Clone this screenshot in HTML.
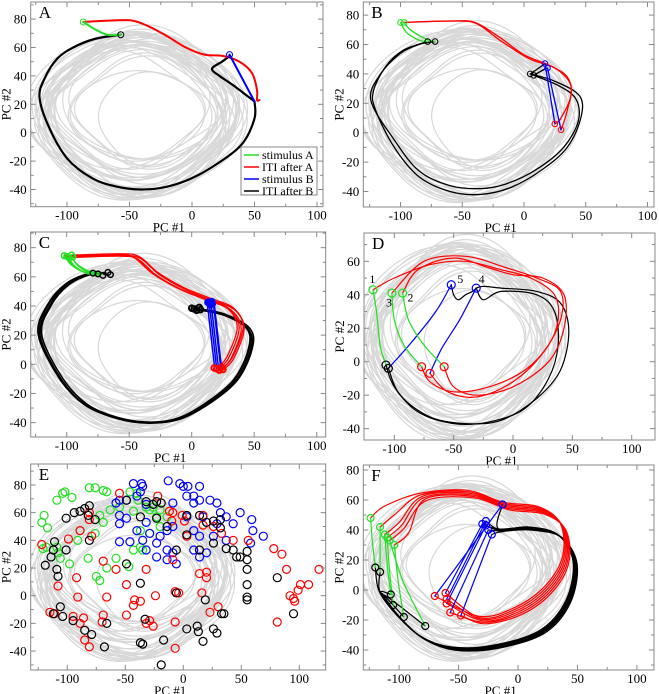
<!DOCTYPE html>
<html><head><meta charset="utf-8">
<style>
html,body{margin:0;padding:0;background:#fff;}
svg{display:block;}
text{font-family:"Liberation Serif",serif;fill:#000;}
</style></head>
<body>
<svg id="fig" width="659" height="694" viewBox="0 0 659 694" xmlns="http://www.w3.org/2000/svg"></svg>
<script>
// ---------- data ----------
const grayCx = [-42,-45,-40,-38,-48,-44,-35,-50,-42,-46,-40,-43,-39,-47,-41,-44,-36,-49,-45,-42,-30,-55,-40,-45,-38,-50,-43,-41,-46,-44,-47,-40,-43,-52];
const grayCy = [15,12,18,14,10,16,20,13,8,17,15,11,19,14,22,9,16,12,18,14,10,15,25,5,12,20,14,17,13,15,11,16,13,9];
const grayRx = [80,75,70,78,72,65,60,82,76,68,55,74,71,79,63,73,58,77,69,50,45,60,66,72,74,62,81,70,67,64,78,76,73,71];
const grayRy = [55,52,50,57,48,45,42,56,53,49,38,54,51,55,40,47,35,52,46,30,32,40,44,50,53,42,56,49,47,44,54,53,51,50];

const xTicks = [-100,-50,0,50,100];
const yTicksA = [-40,-20,0,20,40,60,80];
const yTicksD = [-40,-20,0,20,40,60];

// Panel A
const aGreen = [[-87,78],[-78,73],[-68,69],[-57,69]];
const aRed = [[-87,78],[-65,79],[-48,79],[-35,75],[-20,68],[-5,60],[10,55],[25,54],[38,50],[48,42],[52,30],[52,23],[54,23]];
const aBlue = [[30,55],[50,22]];
const aBlack1 = [[50,22],[50,10],[40,-8],[20,-22],[0,-32],[-20,-38],[-40,-40],[-60,-38],[-80,-32],[-100,-18],[-115,5],[-122,25],[-118,38],[-108,52],[-95,60],[-78,66],[-57,69]];
const aBlack2 = [[30,54],[24,50],[16,45],[22,40],[32,34],[44,26],[50,22]];

// Panel B
const bGreen = [[[-100,75],[-95,68],[-85,63],[-78,62]],[[-97,75],[-92,70],[-80,64],[-72,62]]];
const bRed = [[[-98,75],[-60,76],[-40,75],[-20,65],[0,53],[20,46],[35,38],[38,25],[30,10],[25,6]],
              [[-97,75],[-55,76],[-38,74],[-18,62],[5,50],[25,44],[38,32],[35,15],[30,2]]];
const bBlue = [[[17,47],[25,6]],[[19,44],[30,2]]];
const bBlack = [[[5,40],[25,35],[45,25],[46,10],[35,-10],[15,-25],[-10,-37],[-35,-42],[-60,-40],[-85,-30],[-105,-10],[-120,15],[-122,28],[-112,45],[-98,56],[-78,62]],
                [[8,39],[28,32],[42,23],[44,8],[32,-10],[10,-25],[-15,-35],[-35,-38],[-60,-36],[-85,-26],[-105,-5],[-124,22],[-116,40],[-100,54],[-85,60],[-72,62]]];
const bBlackShort = [[[5,40],[12,44],[17,47]],[[8,39],[14,42],[19,44]]];

// Panel C
const cGreen = [[-100,74],[-95,68],[-85,63],[-75,62]];
const cRed = [[-100,74],[-60,75],[-45,73],[-30,62],[-10,52],[10,45],[30,38],[38,25],[30,5],[22,-3]];
const cBlue = [[14,42],[20,-3]];
const cBlack = [[2,38],[25,34],[45,24],[46,10],[35,-10],[15,-25],[-10,-37],[-35,-40],[-60,-37],[-85,-28],[-105,-10],[-122,20],[-115,40],[-100,55],[-82,62],[-70,62]];
const cDx = [0,2,4,-2,5];
const cDy = [0,-1,1,0.5,-0.5];

// Panel D
const dGreen = [[[-118,43],[-115,30],[-112,10],[-107,-2]],[[-102,41],[-100,25],[-92,10],[-77,-3]],[[-93,41],[-88,25],[-75,10],[-58,-3]]];
const dRed = [[[-77,-3],[-70,-12],[-50,-18],[-20,-15],[10,-5],[30,10],[38,25],[35,40],[15,50],[-10,55],[-40,60],[-70,58],[-100,50],[-118,43]],
              [[-70,-7],[-55,-18],[-30,-21],[0,-12],[25,5],[40,25],[40,42],[20,50],[-5,56],[-40,63],[-75,60],[-102,41]],
              [[-58,-3],[-50,-15],[-30,-20],[0,-15],[30,0],[43,20],[43,40],[25,50],[0,52],[-20,56],[-50,62],[-80,55],[-93,41]]];
const dBlue = [[[-52,46],[-65,30],[-85,12],[-105,-4]],[[-31,44],[-45,25],[-60,8],[-70,-7]]];
const dBlack = [[[-105,-4],[-95,-20],[-70,-33],[-40,-37],[-10,-35],[20,-22],[40,-5],[47,18],[40,35],[20,42],[-10,44],[-25,45],[-31,44]],
                [[-107,-2],[-100,-15],[-80,-30],[-50,-37],[-20,-36],[10,-28],[30,-10],[38,10],[35,30],[20,40],[-10,42],[-25,37],[-31,44]],
                [[-52,46],[-50,40],[-46,37],[-40,40],[-34,42],[-31,44]]];
const dLabels = ['1','3','2','5','4'];
const dLabelX = [-121,-107,-89,-47,-29];
const dLabelY = [47,33,36,47,47];

// Panel E scatter
const eGreenX = [-109,-104,-102,-96,-120,-122,-117,-121,-118,-109,-108,-106,-98,-91,-89,-81,-76,-69,-66,-72,-69,-76,-82,-75,-72,-66,-63,-58,-47,-43,-37,-37,-32,-29,-26,-23,-20,-35,-43,-55,-29,-20,-14,-40,-39,-46];
const eGreenY = [69,74,75,71,58,53,49,34,35,35,31,27,23,40,47,78,78,76,75,58,53,45,27,14,11,20,62,27,21,61,47,35,64,62,64,57,62,33,33,64,45,50,57,74,69,75];
const eBlueX = [-43,-36,-35,-13,-3,0,4,14,-37,-58,-55,-49,-40,-32,-55,-55,-49,-40,-32,-29,-55,-46,-35,-32,-23,-20,-14,-9,-9,3,9,9,14,17,23,29,32,29,26,14,9,14,20,37,43,49,59,60,69,37,-9,-6,-14,-23,3,9,-14,58];
const eBlueY = [81,81,79,83,81,79,79,79,75,67,69,69,72,66,58,52,56,47,53,45,39,39,40,33,38,43,47,50,67,72,72,67,69,57,69,67,60,52,43,43,33,28,31,57,52,60,55,47,43,40,31,23,26,28,57,47,33,38];
const eRedX = [-55,-22,-12,-1,1,-10,3,17,17,26,33,43,56,78,85,89,117,101,99,92,95,96,108,81,14,20,20,16,30,23,-7,-4,-7,-7,-26,-29,-24,-42,-43,-37,-49,-69,-66,-69,-70,-89,-86,-85,-81,-92,-91,-89,-81,-81,-79,-99,-108,-115,-111,-95,-58,-32,-9,-49,-32,-122,-9];
const eRedY = [74,72,61,58,54,54,43,58,51,50,45,40,40,34,30,19,19,8,4,0,-2,-4,8,-19,16,17,13,2,-8,-12,3,2,-19,-38,-22,-18,0,-3,-7,-4,-14,25,-1,-14,-19,-20,-16,-32,-37,13,-1,47,55,60,43,41,7,-12,-13,-15,19,19,26,8,-20,37,60];
const eBlackX = [-101,-94,-89,-85,-82,-76,-81,-111,-112,-114,-119,-108,-109,-106,-112,-104,-95,-85,-79,-68,-66,-33,-37,-35,-17,-19,-6,3,12,13,17,29,26,33,35,-37,-23,-32,-26,-19,-23,-14,-37,-49,-6,3,14,20,26,32,32,37,43,46,49,55,55,55,55,55,55,81,95,19,3,26,14,-81,-49,-101];
const eBlackY = [56,60,61,63,58,55,40,39,33,28,22,14,19,-8,-13,-15,-18,-25,-28,-37,-20,-17,-34,-35,-32,-50,2,-24,-22,-26,-33,-27,-24,-13,-13,9,68,68,66,67,56,50,57,69,33,58,58,53,54,55,49,34,33,28,28,26,32,19,8,-1,-3,13,-13,-3,44,38,33,65,23,33];

// Panel F
const fGStartX = [-124,-116,-112,-110,-104,-108];
const fGStartY = [48,42,37,35,30,33];
const fGEndX = [-120,-116,-107,-105,-96,-78];
const fGEndY = [15,12,-3,-10,-18,-24];
const fRedEndX = [-70,-61,-60,-60,-57,-48];
const fRedEndY = [-4,-2,-6,-9,-15,-17];
const fBlueEndX = [-13,-30,-27,-27,-25,-22];
const fBlueEndY = [57,44,46,43,40,37];
const fRedTop = [[-80,62],[-40,64],[-10,56],[20,53],[38,42],[40,20],[25,0],[0,-14],[-30,-20]];
const fBlackMid = [[-15,40],[10,41],[35,36],[48,18],[42,-8],[20,-28],[-20,-38],[-55,-39],[-80,-32],[-100,-18],[-115,-2]];

// ---------- drawing helpers ----------
const NS = 'http://www.w3.org/2000/svg';
const svg = document.getElementById('fig');
function mk(tag, attrs, parent){
  const el = document.createElementNS(NS, tag);
  for (const k in attrs) el.setAttribute(k, attrs[k]);
  (parent||svg).appendChild(el);
  return el;
}
function smoothPath(pts){
  if (pts.length < 3) return 'M'+pts.map(p=>p[0].toFixed(1)+','+p[1].toFixed(1)).join(' L');
  let d = 'M'+pts[0][0].toFixed(1)+','+pts[0][1].toFixed(1);
  for (let i=0;i<pts.length-1;i++){
    const p0 = pts[Math.max(0,i-1)], p1 = pts[i], p2 = pts[i+1], p3 = pts[Math.min(pts.length-1,i+2)];
    const c1 = [p1[0]+(p2[0]-p0[0])/6, p1[1]+(p2[1]-p0[1])/6];
    const c2 = [p2[0]-(p3[0]-p1[0])/6, p2[1]-(p3[1]-p1[1])/6];
    d += ' C'+c1[0].toFixed(1)+','+c1[1].toFixed(1)+' '+c2[0].toFixed(1)+','+c2[1].toFixed(1)+' '+p2[0].toFixed(1)+','+p2[1].toFixed(1);
  }
  return d;
}
const COL = {g:'#22e022', r:'#ff0000', b:'#0000ff', k:'#000000'};

function makePanel(cfg){
  const g = mk('g', {});
  
  
  const X = v => cfg.x0 + v*cfg.sx;
  const Y = v => cfg.y0 - v*cfg.sy;
  const P = pts => pts.map(p=>[X(p[0]),Y(p[1])]);
  const clipId = 'clip'+cfg.id;
  const cp = mk('clipPath', {id:clipId}, g);
  mk('rect', {x:cfg.L, y:cfg.T, width:cfg.R-cfg.L, height:cfg.B-cfg.T}, cp);
  const plot = mk('g', {'clip-path':'url(#'+clipId+')'}, g);
  const gray = mk('g', {fill:'none', stroke:'#d4d4d4', 'stroke-width':'1.2', opacity:'0.9'}, plot);
  
  
  for (let i=0;i<grayCx.length;i++){
    const pts = [];
    for (let k=0;k<=48;k++){
      const t = k/48*Math.PI*2 + i*0.3;
      const c = Math.cos(t), s = Math.sin(t);
      const sq = 1 + 0.04*Math.cos(4*t) + 0.05*Math.sin(3*t+i);
      pts.push([X(grayCx[i] + grayRx[i]*c*sq), Y(grayCy[i] + grayRy[i]*s*sq)]);
    }
    const e = mk('path', {d:smoothPath(pts)}, gray);
    
    
  }
  const lines = mk('g', {fill:'none', 'stroke-linejoin':'round', 'stroke-linecap':'round'}, plot);
  const marks = mk('g', {fill:'none'}, plot);
  cfg.draw({X,Y,P,lines,marks});
  const fr = mk('rect', {x:cfg.L, y:cfg.T, width:cfg.R-cfg.L, height:cfg.B-cfg.T, fill:'none', stroke:'#888', 'stroke-width':'1'}, g);
  
  
  const tk = mk('g', {stroke:'#888', 'stroke-width':'1'}, g);
  for (let v=-125; v<=125; v+=25){
    const x = X(v); if (x<cfg.L+1||x>cfg.R-1) continue;
    const len = v%50===0 ? 5 : 3;
    mk('line', {x1:x, y1:cfg.B, x2:x, y2:cfg.B-len}, tk);
    mk('line', {x1:x, y1:cfg.T, x2:x, y2:cfg.T+len}, tk);
  }
  for (let v=-60; v<=100; v+=10){
    const y = Y(v); if (y<cfg.T+1||y>cfg.B-1) continue;
    const len = v%20===0 ? 5 : 3;
    mk('line', {x1:cfg.L, y1:y, x2:cfg.L+len, y2:y}, tk);
    mk('line', {x1:cfg.R, y1:y, x2:cfg.R-len, y2:y}, tk);
  }
  xTicks.forEach(v=>{
    const t = mk('text', {x:X(v), y:cfg.B+13, 'font-size':'13', 'text-anchor':'middle'}, g);
    t.textContent = v;
    
    
  });
  cfg.yTicks.forEach(v=>{
    const t = mk('text', {x:cfg.L-4, y:Y(v)+4.5, 'font-size':'13', 'text-anchor':'end'}, g);
    t.textContent = v;
    
    
  });
  const xl = mk('text', {x:(cfg.L+cfg.R)/2 - 8, y:cfg.B+25, 'font-size':'13', 'text-anchor':'middle'}, g);
  xl.textContent = 'PC #1';
  
  
  const yc = (cfg.T+cfg.B)/2;
  const yl = mk('text', {x:cfg.L-20, y:yc, 'font-size':'13', 'text-anchor':'middle', transform:'rotate(-90 '+(cfg.L-20)+' '+yc+')'}, g);
  yl.textContent = 'PC #2';
  
  
  const pl = mk('text', {x:cfg.L+8, y:cfg.T+16, 'font-size':'17'}, g);
  pl.textContent = cfg.id;
  
  
  return g;
}
function line(ctx, pts, col, w, name){
  const e = mk('path', {d:smoothPath(ctx.P(pts)), stroke:col, 'stroke-width':w}, ctx.lines);
  
  
}
function circ(ctx, x, y, col, r, w, name){
  const e = mk('circle', {cx:ctx.X(x), cy:ctx.Y(y), r:r, stroke:col, 'stroke-width':w||1, fill:'none'}, ctx.marks);
  
  
}

// ---------- panels ----------
makePanel({id:'A', L:30.7, R:323, T:2, B:206.7, x0:192, sx:1.25, y0:132.7, sy:1.42, yTicks:yTicksA, draw:c=>{
  line(c, aBlack1, COL.k, 2.2, 'iti-after-b-line');
  line(c, aBlack2, COL.k, 2.2, 'iti-after-b-line');
  line(c, aRed, COL.r, 2, 'iti-after-a-line');
  line(c, aBlue, COL.b, 2, 'stimulus-b-line');
  line(c, aGreen, COL.g, 2, 'stimulus-a-line');
  circ(c, aGreen[0][0], aGreen[0][1], COL.g, 3, 1, 'stimulus-a-start');
  circ(c, aGreen[aGreen.length-1][0], aGreen[aGreen.length-1][1], COL.k, 3, 1, 'stimulus-a-end');
  circ(c, aBlue[0][0], aBlue[0][1], COL.b, 3, 1, 'stimulus-b-start');
}});
(function(){
  const lg = mk('g', {});
  
  
  mk('rect', {x:241, y:147, width:76, height:48, fill:'#fff', stroke:'#888', 'stroke-width':'1'}, lg);
  const names = ['stimulus A','ITI after A','stimulus B','ITI after B'];
  const cols = [COL.g, COL.r, COL.b, COL.k];
  names.forEach((n,i)=>{
    const y = 155 + i*12;
    const ent = mk('g', {}, lg);
    
    
    mk('line', {x1:244, y1:y, x2:259, y2:y, stroke:cols[i], 'stroke-width':'1.5'}, ent);
    const t = mk('text', {x:262, y:y+4, 'font-size':'12'}, ent);
    t.textContent = n;
  });
})();

makePanel({id:'B', L:363.3, R:654, T:2, B:207, x0:524, sx:1.235, y0:132.7, sy:1.47, yTicks:yTicksA, draw:c=>{
  bBlack.forEach(p=>line(c, p, COL.k, 1.3, 'iti-after-b-line'));
  bBlackShort.forEach(p=>line(c, p, COL.k, 1.3, 'iti-after-b-line'));
  bRed.forEach(p=>line(c, p, COL.r, 1.3, 'iti-after-a-line'));
  bBlue.forEach(p=>line(c, p, COL.b, 1.3, 'stimulus-b-line'));
  bGreen.forEach(p=>line(c, p, COL.g, 1.3, 'stimulus-a-line'));
  bGreen.forEach(p=>{circ(c,p[0][0],p[0][1],COL.g,2.8,1,'stimulus-a-start'); circ(c,p[p.length-1][0],p[p.length-1][1],COL.k,2.8,1,'stimulus-a-end');});
  bBlue.forEach(p=>{circ(c,p[0][0],p[0][1],COL.b,2.8,1,'stimulus-b-start'); circ(c,p[1][0],p[1][1],COL.r,2.8,1,'stimulus-b-end');});
  bBlack.forEach(p=>circ(c,p[0][0],p[0][1],COL.k,2.8,1,'iti-b-start'));
}});

makePanel({id:'C', L:30.7, R:325.7, T:232, B:437, x0:191.7, sx:1.25, y0:364.3, sy:1.458, yTicks:yTicksA, draw:c=>{
  const sh = (pts,i,f)=>pts.map(p=>[p[0]+cDx[i]*f, p[1]+cDy[i]*f]);
  cDx.forEach((_,i)=>line(c, sh(cBlack,i,0.45), COL.k, 1.3, 'iti-after-b-line'));
  cDx.forEach((_,i)=>line(c, sh(cRed,i,0.8), COL.r, 1.3, 'iti-after-a-line'));
  cDx.forEach((_,i)=>line(c, sh(cBlue,i,0.8), COL.b, 1.5, 'stimulus-b-line'));
  cDx.forEach((_,i)=>line(c, sh(cGreen,i,0.8), COL.g, 1.3, 'stimulus-a-line'));
  cDx.forEach((_,i)=>{
    circ(c, cGreen[0][0]+cDx[i], cGreen[0][1]+cDy[i], COL.g, 2.8, 1.5, 'stimulus-a-start');
    circ(c, cGreen[3][0]+cDx[i]*2, cGreen[3][1]+cDy[i], COL.k, 2.8, 1.5, 'stimulus-a-end');
    circ(c, cBlue[0][0]+cDx[i]*0.5, cBlue[0][1]+cDy[i], COL.b, 2.8, 2, 'stimulus-b-start');
    circ(c, cBlue[1][0]+cDx[i], cBlue[1][1]+cDy[i], COL.r, 2.8, 2, 'stimulus-b-end');
    circ(c, cBlack[0][0]+cDx[i], cBlack[0][1]+cDy[i], COL.k, 2.8, 2, 'iti-b-start');
  });
}});

makePanel({id:'D', L:364, R:655, T:233, B:440, x0:513, sx:1.187, y0:361.7, sy:1.673, yTicks:yTicksD, draw:c=>{
  dBlack.forEach(p=>line(c, p, COL.k, 1.2, 'iti-after-b-line'));
  dRed.forEach(p=>line(c, p, COL.r, 1.2, 'iti-after-a-line'));
  dBlue.forEach(p=>line(c, p, COL.b, 1.2, 'stimulus-b-line'));
  dGreen.forEach(p=>line(c, p, COL.g, 1.2, 'stimulus-a-line'));
  dGreen.forEach(p=>{circ(c,p[0][0],p[0][1],COL.g,4,1.2,'stimulus-a-start');});
  circ(c,-107,-2,COL.k,4,1.2,'stimulus-a-end');
  circ(c,-105,-4,COL.k,4,1.2,'stimulus-a-end');
  circ(c,-77,-3,COL.r,4,1.2,'stimulus-a-end');
  circ(c,-58,-3,COL.r,4,1.2,'stimulus-a-end');
  circ(c,-70,-7,COL.r,4,1.2,'stimulus-b-end');
  dBlue.forEach(p=>circ(c,p[0][0],p[0][1],COL.b,4,1.2,'stimulus-b-start'));
  dLabels.forEach((l,i)=>{
    const t = mk('text', {x:c.X(dLabelX[i]), y:c.Y(dLabelY[i]), 'font-size':'12'}, c.marks);
    t.textContent = l;
    
    
  });
}});

makePanel({id:'E', L:30.7, R:325.7, T:464, B:670, x0:183.3, sx:1.16, y0:595.7, sy:1.384, yTicks:yTicksA, draw:c=>{
  const sets = [[eGreenX,eGreenY,COL.g,'stimulus-a-point'],[eBlueX,eBlueY,COL.b,'stimulus-b-point'],[eRedX,eRedY,COL.r,'iti-a-point'],[eBlackX,eBlackY,COL.k,'iti-b-point']];
  sets.forEach(s=>{
    for (let i=0;i<s[0].length;i++) circ(c, s[0][i], s[1][i], s[2], 4, 1.2, s[3]);
  });
}});

makePanel({id:'F', L:363.3, R:654, T:465, B:670, x0:518, sx:1.189, y0:590, sy:1.5, yTicks:yTicksA, draw:c=>{
  const n = fGStartX.length;
  for (let i=0;i<n;i++){
    const jit = (i-2.5)*0.7;
    const blk = [[fBlueEndX[i],fBlueEndY[i]]].concat(fBlackMid.map(p=>[p[0]+jit,p[1]-jit*0.6])).concat([[fGEndX[i],fGEndY[i]]]);
    line(c, blk, COL.k, 1.2, 'iti-after-b-line');
  }
  for (let i=0;i<n;i++){
    const jit = (i-2.5)*1.0;
    const red = [[fGStartX[i],fGStartY[i]],[fGStartX[i]+12,fGStartY[i]+8]].concat(fRedTop.map(p=>[p[0]+jit,p[1]-jit])).concat([[fRedEndX[i],fRedEndY[i]]]);
    line(c, red, COL.r, 1.2, 'iti-after-a-line');
  }
  for (let i=0;i<n;i++) line(c, [[fRedEndX[i],fRedEndY[i]],[fBlueEndX[i],fBlueEndY[i]]], COL.b, 1.2, 'stimulus-b-line');
  for (let i=0;i<n;i++) line(c, [[fGStartX[i],fGStartY[i]],[(fGStartX[i]*0.6+fGEndX[i]*0.4),(fGStartY[i]+fGEndY[i])/2],[fGEndX[i],fGEndY[i]]], COL.g, 1.2, 'stimulus-a-line');
  for (let i=0;i<n;i++){
    circ(c, fGStartX[i], fGStartY[i], COL.g, 3.5, 1.2, 'stimulus-a-start');
    circ(c, fGEndX[i], fGEndY[i], COL.k, 3.5, 1.2, 'stimulus-a-end');
    circ(c, fRedEndX[i], fRedEndY[i], COL.r, 3.5, 1.2, 'stimulus-b-start');
    circ(c, fBlueEndX[i], fBlueEndY[i], COL.b, 3.5, 1.2, 'stimulus-b-end');
  }
}});
</script>
</body></html>
